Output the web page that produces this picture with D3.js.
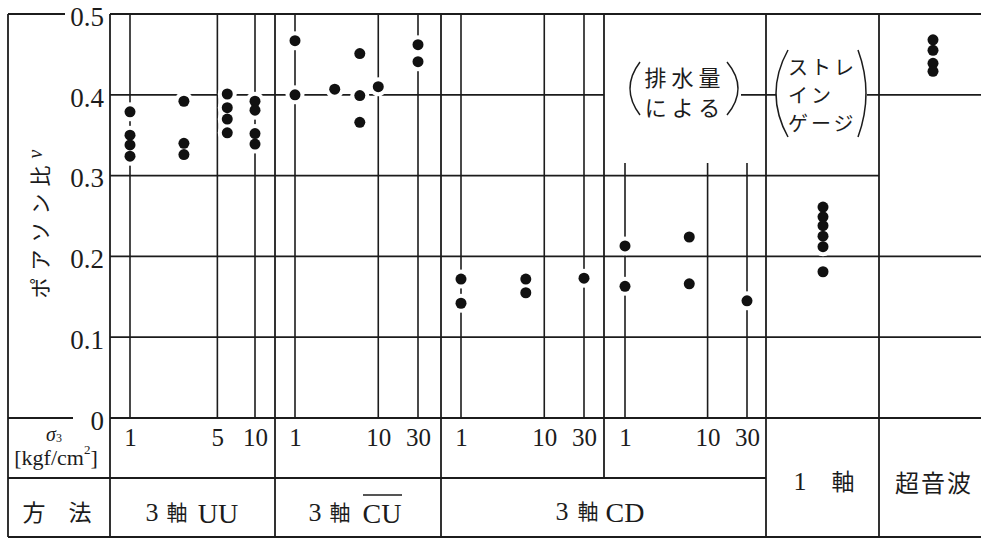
<!DOCTYPE html>
<html><head><meta charset="utf-8">
<script src="https://cdn.jsdelivr.net/npm/d3@7"></script>
<style>body{margin:0;background:#fff} svg{display:block}</style>
</head><body>
<svg id="c" width="981" height="539"></svg>
<script>
// ---------- data ----------
const yTicks = [0, 0.1, 0.2, 0.3, 0.4, 0.5];
const yTickLabels = ["0", "0.1", "0.2", "0.3", "0.4", "0.5"];
const sigmaTicksUU = [1, 5, 10];
const sigmaTicksCU = [1, 10, 30];
const sigmaTicksCD = [1, 10, 30];
const sigmaTicksCDv = [1, 10, 30];
const uuSigma = [1, 2.7, 6, 10];
const uuNu = [[0.379, 0.350, 0.338, 0.324], [0.392, 0.340, 0.326], [0.401, 0.384, 0.370, 0.353], [0.392, 0.381, 0.352, 0.339]];
const cuSigma = [1, 3, 6, 10, 30];
const cuNu = [[0.467, 0.400], [0.407], [0.451, 0.399, 0.366], [0.410], [0.462, 0.441]];
const cdSigma = [1, 6, 30];
const cdNu = [[0.172, 0.142], [0.172, 0.155], [0.173]];
const cdvSigma = [1, 6, 30];
const cdvNu = [[0.213, 0.163], [0.224, 0.166], [0.145]];
const uniaxialNu = [0.261, 0.249, 0.238, 0.225, 0.212, 0.181];
const ultrasonicNu = [0.468, 0.455, 0.439, 0.429];
const yTitle = "ポアソン比";
const yTitleSymbol = "ν";
const noteDrain = ["排水量", "による"];
const noteStrain = ["ストレ", "イン", "ゲージ"];
const methodHeader = "方　法";

// ---------- layout ----------
const INK = "#1c1c1c";
const SW = 1.8;
const SERIF = '"Liberation Serif"';
const JP = '"Noto Sans CJK JP"';
const svg = d3.select("#c");
const y = d3.scaleLinear().domain([0, 0.5]).range([418, 14]);
const gLines = svg.append("g");
const gHalo = svg.append("g");
const gDots = svg.append("g");
const gText = svg.append("g");

function ln(x1, y1, x2, y2, w) {
  gLines.append("line").attr("x1", x1).attr("y1", y1).attr("x2", x2).attr("y2", y2)
    .attr("stroke", INK).attr("stroke-width", w || SW);
}

const panels = [
  {scale: d3.scaleLog().domain([1, 10]).range([130, 255]), ticks: sigmaTicksUU, sig: uuSigma, nu: uuNu, top: 14},
  {scale: d3.scaleLog().domain([1, 30]).range([295, 418]), ticks: sigmaTicksCU, sig: cuSigma, nu: cuNu, top: 14},
  {scale: d3.scaleLog().domain([1, 30]).range([461, 584]), ticks: sigmaTicksCD, sig: cdSigma, nu: cdNu, top: 14},
  {scale: d3.scaleLog().domain([1, 30]).range([625, 747]), ticks: sigmaTicksCDv, sig: cdvSigma, nu: cdvNu, top: 163}
];

// horizontal rules
const hSegs = [
  [0.5, [[8, 65], [110, 981]]],
  [0.4, [[110, 604], [741, 776], [867, 981]]],
  [0.3, [[110, 879]]],
  [0.2, [[110, 981]]],
  [0.1, [[110, 981]]],
  [0, [[8, 73], [110, 981]]]
];
hSegs.forEach(([v, segs]) => segs.forEach(([a, b]) => ln(a, y(v), b, y(v))));
ln(8, 478, 766, 478);
ln(8, 537, 981, 537);

// vertical borders
[[8, 14, 537], [110, 14, 537], [275, 14, 537], [441, 14, 537], [604, 14, 478], [766, 14, 537], [879, 14, 537]]
  .forEach(([x, a, b]) => ln(x, a, x, b));

// sigma3 lines and ticks
panels.forEach(p => {
  p.ticks.forEach(t => ln(p.scale(t), p.top, p.scale(t), y(0), 1.6));
  const ax = d3.axisBottom(p.scale).tickValues(p.ticks).tickFormat(d3.format("d")).tickSize(0).tickPadding(10);
  const g = gText.append("g").attr("transform", `translate(0,${y(0)})`).call(ax);
  g.select(".domain").remove();
  g.selectAll("text").style("font-family", SERIF).style("font-size", "25px").attr("fill", INK);
});

// y axis labels
const ya = d3.axisLeft(y).tickValues(yTicks).tickFormat((d, i) => yTickLabels[i]).tickSize(0).tickPadding(6);
const gy = gText.append("g").attr("transform", "translate(110,0)").call(ya);
gy.select(".domain").remove();
gy.selectAll("text").style("font-family", SERIF).style("font-size", "27px").attr("fill", INK).attr("dy", "0.42em");

// points
const pts = [];
panels.forEach(p => p.sig.forEach((s, i) => p.nu[i].forEach(v => pts.push([p.scale(s), y(v)]))));
uniaxialNu.forEach(v => pts.push([823, y(v)]));
ultrasonicNu.forEach(v => pts.push([933, y(v)]));
gHalo.selectAll("circle").data(pts).join("circle")
  .attr("cx", d => d[0]).attr("cy", d => d[1]).attr("r", 9.5).attr("fill", "#fff");
gDots.selectAll("circle").data(pts).join("circle")
  .attr("cx", d => d[0]).attr("cy", d => d[1]).attr("r", 5.5).attr("fill", "#111");

// text helper
function txt(x, yy, s, size, fam, opts) {
  opts = opts || {};
  const t = gText.append("text").attr("x", x).attr("y", yy).text(s)
    .style("font-family", fam).style("font-size", size + "px").attr("fill", INK)
    .attr("text-anchor", opts.anchor || "middle").attr("dominant-baseline", "central");
  if (opts.ls) t.attr("letter-spacing", opts.ls);
  if (opts.italic) t.style("font-style", "italic");
  return t;
}

// y title (rotated)
const yt = gText.append("text").attr("transform", "translate(39,224) rotate(-90)")
  .attr("text-anchor", "middle").attr("dominant-baseline", "central").attr("fill", INK);
yt.append("tspan").text(yTitle).style("font-family", JP).style("font-size", "21px").attr("letter-spacing", 7);
yt.append("tspan").text(yTitleSymbol).style("font-family", SERIF).style("font-style", "italic").style("font-size", "20px").attr("dy", -4);

// sigma3 header
const s3 = gText.append("text").attr("x", 54).attr("y", 434).attr("text-anchor", "middle").attr("dominant-baseline", "central").attr("fill", INK).style("font-family", SERIF);
s3.append("tspan").text("σ").style("font-style", "italic").style("font-size", "20px");
s3.append("tspan").text("3").style("font-size", "12px").attr("dy", 4);
const kg = gText.append("text").attr("x", 56).attr("y", 457).attr("text-anchor", "middle").attr("dominant-baseline", "central").attr("fill", INK).style("font-family", SERIF).style("font-size", "22px");
kg.append("tspan").text("[kgf/cm");
kg.append("tspan").text("2").style("font-size", "13px").attr("dy", -8);
kg.append("tspan").text("]").attr("dy", 8);

// method row
txt(57, 511, methodHeader, 23, JP);
txt(152, 512, "3", 26, SERIF); txt(177, 511, "軸", 21, JP); txt(218, 513, "UU", 28, SERIF);
txt(315, 512, "3", 26, SERIF); txt(340, 511, "軸", 21, JP); txt(382, 513, "CU", 28, SERIF);
ln(363, 495, 402, 495, 1.5);
txt(562, 511, "3", 26, SERIF); txt(588, 510, "軸", 21, JP); txt(625, 512, "CD", 28, SERIF);
txt(800, 481, "1", 26, SERIF); txt(843, 480, "軸", 23, JP);
txt(934, 481, "超音波", 24, JP, {ls: 2});

// annotations
txt(685, 76, noteDrain[0], 22, JP, {ls: 5});
txt(685, 106, noteDrain[1], 22, JP, {ls: 5});
[66, 94, 122].forEach((yy, i) => txt(788, yy, noteStrain[i], 20, JP, {anchor: "start", ls: 3}));
function paren(xTop, y0, y1, xc) {
  gLines.append("path").attr("d", `M${xTop},${y0} Q${xc},${(y0 + y1) / 2} ${xTop},${y1}`)
    .attr("fill", "none").attr("stroke", INK).attr("stroke-width", 1.5);
}
paren(640, 62, 115, 620);
paren(727, 62, 115, 749);
paren(788, 50, 137, 764);
paren(858, 50, 137, 874);
</script>
</body></html>
